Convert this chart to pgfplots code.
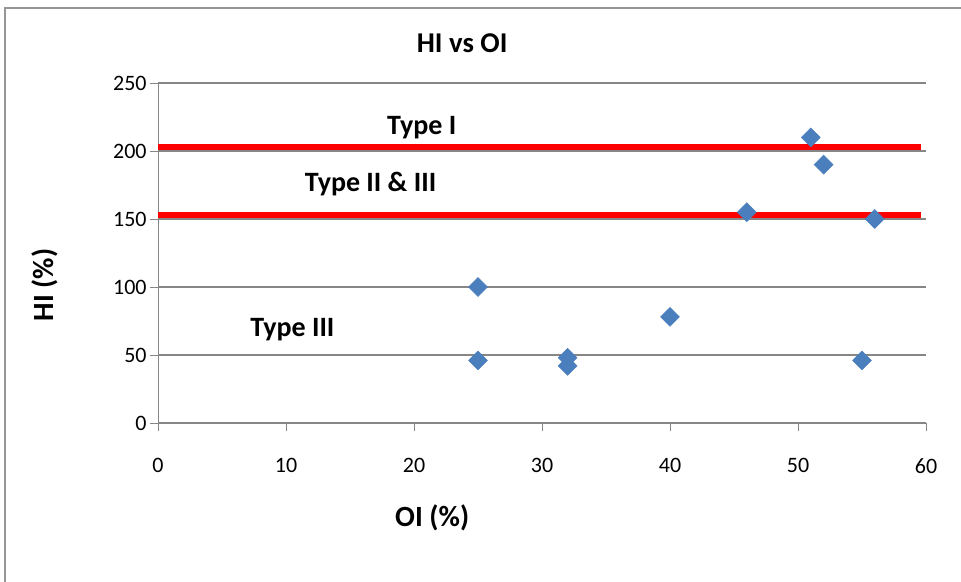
\documentclass[border=0pt]{standalone}
\usepackage{fontspec}
\setmainfont{Carlito}
\usepackage{pgfplots}
\pgfplotsset{compat=1.18}
\definecolor{excelblue}{RGB}{74,126,189}
\definecolor{gridgray}{RGB}{134,134,134}
\definecolor{framegray}{RGB}{150,150,150}

\begin{document}
\begin{tikzpicture}
\begin{axis}[
    scale only axis,
    width=576pt, height=255pt,
    xmin=0, xmax=60, ymin=0, ymax=250,
    xtick={0,10,...,60}, ytick={0,50,...,250},
    axis lines=left,
    axis line style={gridgray, -},
    tick style={gridgray, thin},
    tick align=outside,
    major tick length=6pt,
    ymajorgrids,
    grid style={gridgray, line width=0.8pt},
    clip=false,
    /pgf/number format/assume math mode=true,
    ticklabel style={font=\fontsize{16.5}{18}\selectfont},
    xticklabel style={yshift=-17pt},
    yticklabel style={xshift=1pt},
]
% threshold lines
\addplot[red, line width=5pt] coordinates {(0,203) (59.6,203)};
\addplot[red, line width=5pt] coordinates {(0,153) (59.6,153)};
% samples
\addplot[only marks, mark=square*, mark size=5pt,
    mark options={rotate=45, fill=excelblue, draw=excelblue}] coordinates {
    (25,100) (25,46) (32,48) (32,42) (40,78)
    (46,155) (51,210) (52,190) (55,46) (56,150)
};
\node[font=\fontsize{21}{24}\selectfont\bfseries] at (axis cs:20.6,217) {Type I};
\node[font=\fontsize{21}{24}\selectfont\bfseries] at (axis cs:16.6,176) {Type II \& III};
\node[font=\fontsize{21}{24}\selectfont\bfseries] at (axis cs:10.5,69) {Type III};
\node[font=\fontsize{21.5}{24}\selectfont\bfseries] at (axis description cs:0.396,1.1176) {HI vs OI};
\node[font=\fontsize{22}{24}\selectfont\bfseries] at (axis description cs:0.357,-0.279) {OI (\%)};
\node[font=\fontsize{22}{24}\selectfont\bfseries, rotate=90] at (axis description cs:-0.147,0.406) {HI (\%)};
\end{axis}
\draw[framegray, line width=1.2pt] (current axis.south west) ++(-114.75pt,-119.25pt) -- ++(0,430.5pt) -- ++(717pt,0);
\pgfresetboundingbox
\path (current axis.south west) ++(-118.5pt,-119.25pt) rectangle ++(720.75pt,436.5pt);
\end{tikzpicture}
\end{document}
